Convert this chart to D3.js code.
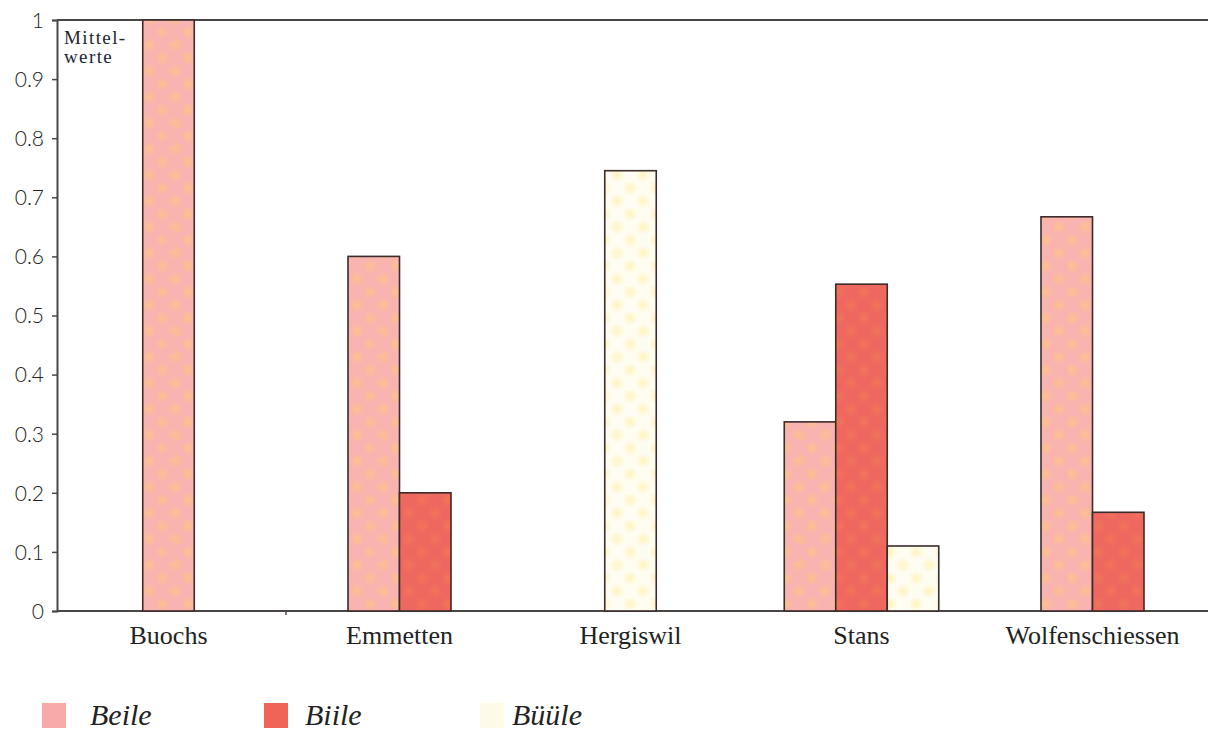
<!DOCTYPE html>
<html><head><meta charset="utf-8">
<script src="https://cdn.jsdelivr.net/npm/d3@7"></script>
<style>body{margin:0;background:#fff}svg{display:block}</style>
</head><body><svg id="c" width="1208" height="731"></svg>
<script>
const categories = ["Buochs","Emmetten","Hergiswil","Stans","Wolfenschiessen"];
const seriesNames = ["Beile","Biile","Büüle"];
const beile = [1.0, 0.6, 0, 0.32, 0.667];
const biile = [0, 0.2, 0, 0.553, 0.167];
const buule = [0, 0, 0.745, 0.11, 0];
const yTicks = [0,0.1,0.2,0.3,0.4,0.5,0.6,0.7,0.8,0.9,1];
const yTickLabels = ["0","0.1","0.2","0.3","0.4","0.5","0.6","0.7","0.8","0.9","1"];

const SERIF = "Liberation Serif, DejaVu Serif, serif";
const svg = d3.select("#c");
const defs = svg.append("defs");
function pat(id, base, dot, op){
  const g = defs.append("radialGradient").attr("id", id+"g");
  g.append("stop").attr("offset","0%").attr("stop-color",dot).attr("stop-opacity",op);
  g.append("stop").attr("offset","100%").attr("stop-color",dot).attr("stop-opacity",0);
  const p = defs.append("pattern").attr("id",id).attr("patternUnits","userSpaceOnUse").attr("width",26).attr("height",26);
  p.append("rect").attr("width",26).attr("height",26).attr("fill",base);
  p.append("circle").attr("cx",6).attr("cy",6).attr("r",8).attr("fill",`url(#${id}g)`);
  p.append("circle").attr("cx",19).attr("cy",19).attr("r",8).attr("fill",`url(#${id}g)`);
}
pat("pBeile","#f9b3b0","#fdc486",0.8);
pat("pBiile","#ee6860","#f47c52",0.6);
pat("pBuule","#fffcf2","#fff2b0",0.8);
const fills = ["url(#pBeile)","url(#pBiile)","url(#pBuule)"];
const legendFills = ["#f8aaa8","#ef6456","#fffbe8"];

const axisX = 57, mLeft = 53, mTop = 20, mBottom = 611, bandW = 231;
const x = d3.scaleBand().domain(categories).range([mLeft, mLeft + bandW*categories.length]).padding(0);
const y = d3.scaleLinear().domain([0,1]).range([mBottom, mTop]);
const barW = 51.5;

// x axis
const xAxis = d3.axisBottom(x).tickSize(0);
const xa = svg.append("g").attr("transform",`translate(0,${mBottom})`).call(xAxis);
xa.select(".domain").remove();
xa.selectAll(".tick text").attr("font-family",SERIF).attr("font-size",26).attr("fill","#222").attr("y",15);
svg.append("line").attr("x1",axisX).attr("x2",1208).attr("y1",mBottom).attr("y2",mBottom).attr("stroke","#4a4644").attr("stroke-width",2);
svg.append("line").attr("x1",x(categories[1])+2).attr("x2",x(categories[1])+2).attr("y1",mBottom).attr("y2",mBottom+4).attr("stroke","#4a4644").attr("stroke-width",1.5);

// y axis
const yAxis = d3.axisLeft(y).tickValues(yTicks).tickSize(5).tickFormat((d,i)=>yTickLabels[i]);
const ya = svg.append("g").attr("transform",`translate(${axisX},0)`).call(yAxis);
ya.select(".domain").attr("stroke","#4a4644").attr("stroke-width",2);
ya.selectAll(".tick line").attr("stroke","#4a4644").attr("stroke-width",1.5);
ya.selectAll(".tick text").attr("font-family","Lato, 'Open Sans', sans-serif").attr("font-size",21).attr("fill","#222").attr("x",-13).attr("dy","0.35em").attr("font-weight",300);

// top line
svg.append("line").attr("x1",axisX).attr("x2",1208).attr("y1",y(1)).attr("y2",y(1)).attr("stroke","#4a4644").attr("stroke-width",2);

// bars
const series = [beile, biile, buule];
categories.forEach((c,i)=>{
  const present = series.map((s,k)=>({k,v:s[i]})).filter(d=>d.v>0);
  const cx = x(c) + x.bandwidth()/2;
  const start = cx - present.length*barW/2;
  present.forEach((d,j)=>{
    svg.append("rect")
      .attr("x", start + j*barW).attr("y", y(d.v))
      .attr("width", barW).attr("height", y(0)-y(d.v))
      .attr("fill", fills[d.k]).attr("stroke","#3b2b2a").attr("stroke-width",1.6);
  });
});

// Mittelwerte label
svg.append("text").attr("font-family",SERIF).attr("font-size",19).attr("letter-spacing",1.4).attr("fill","#1c2636").attr("x",64).attr("y",44).text("Mittel-");
svg.append("text").attr("font-family",SERIF).attr("font-size",19).attr("letter-spacing",1.4).attr("fill","#1c2636").attr("x",64).attr("y",63).text("werte");

// legend
const legX = [42, 264, 480];
const legTX = [90, 305, 512];
seriesNames.forEach((n,i)=>{
  svg.append("rect").attr("x",legX[i]).attr("y",703).attr("width",24).attr("height",25).attr("fill",legendFills[i]);
  svg.append("text").attr("x",legTX[i]).attr("y",725).attr("font-family",SERIF).attr("font-style","italic").attr("font-size",30).attr("fill","#222").text(n);
});
</script></body></html>
